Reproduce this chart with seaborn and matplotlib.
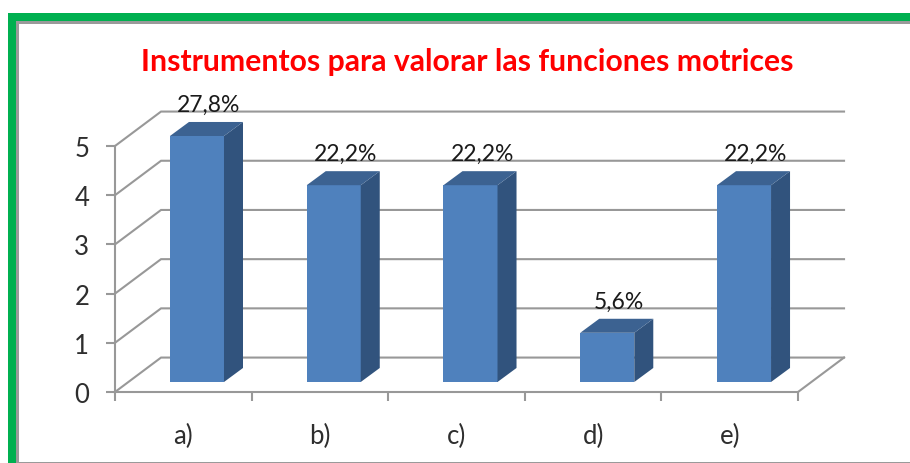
# Instrumentos para valorar las funciones motrices
# 3D looking column chart

# Required Libraries
import pandas as pd
import matplotlib
matplotlib.use('Agg')
import matplotlib.pyplot as plt
from matplotlib.patches import Polygon, Rectangle
import seaborn as sb

# Data
categories = ['a)', 'b)', 'c)', 'd)', 'e)']
values = [5, 4, 4, 1, 4]
percent_labels = ['27,8%', '22,2%', '22,2%', '5,6%', '22,2%']
y_ticks = [0, 1, 2, 3, 4, 5]
title = 'Instrumentos para valorar las funciones motrices'

# Colours
GRID = '#989898'
FRONT = '#4F81BD'
SIDE = '#31537D'
TOP = '#3C6291'
GREEN = '#00B050'

W, H = 910, 464
plt.rcParams['font.family'] = ['Lato', 'DejaVu Sans']
fig = plt.figure(figsize=(W / 100, H / 100), dpi=100, facecolor='white')


# Axes box given in picture pixels
def box(left, right, top, bottom):
    return [left / W, 1 - bottom / H, (right - left) / W, (bottom - top) / H]


# Frame around the picture
def frame(left, right, top, bottom, color):
    fig.add_artist(Rectangle((left / W, 1 - bottom / H), (right - left) / W, (bottom - top) / H,
                             transform=fig.transFigure, facecolor=color, edgecolor='none'))


frame(8, W, 14, H, GREEN)
frame(16, W, 22, H, '#9A9A9A')
frame(19, W, 25, 463, 'white')

# Front plane with the axes, walls and gridlines
ax = fig.add_axes(box(115, 798, 147, 393), zorder=1)
ax.patch.set_alpha(0)
ax.set_xlim(-0.5, 4.5)
ax.set_ylim(0, 5)
wall_x, wall_y = 0.337, 0.70
for v in y_ticks:
    ax.plot([-0.5, -0.5 + wall_x, 4.5 + wall_x], [v, v + wall_y, v + wall_y],
            color=GRID, lw=1.5, clip_on=False, solid_joinstyle='miter')
ax.plot([4.5, 4.5 + wall_x], [0, wall_y], color=GRID, lw=1.5, clip_on=False)

sb.despine(ax=ax)
for side in ['left', 'bottom']:
    ax.spines[side].set_color(GRID)
    ax.spines[side].set_linewidth(1.5)
ax.set_yticks(y_ticks)
ax.tick_params(axis='y', length=6.5, width=1.5, color=GRID, labelsize=18.5, labelcolor='#2E2E2E', pad=12)
ax.set_xticks([i - 0.5 for i in range(len(categories) + 1)])
ax.set_xticklabels([])
ax.set_xticks(range(len(categories)), labels=categories, minor=True)
ax.tick_params(axis='x', which='major', length=6.5, width=1.5, color=GRID)
ax.tick_params(axis='x', which='minor', length=0, labelsize=18.5, labelcolor='#2E2E2E', pad=22)

# Bars on their own plane, a little behind the axes
df = pd.DataFrame({'category': categories, 'value': values})
bx = fig.add_axes(box(128.6, 812.4, 137, 383), zorder=2)
bx.patch.set_alpha(0)
sb.barplot(data=df, x='category', y='value', color=FRONT, saturation=1, width=0.395, ax=bx)
bx.set_xlim(-0.5, 4.5)
bx.set_ylim(0, 5)
bx.axis('off')

depth_x, depth_y = 0.139, 0.285
for bar, label in zip(bx.patches, percent_labels):
    x0, x1 = bar.get_x(), bar.get_x() + bar.get_width()
    v = bar.get_height()
    bx.add_patch(Polygon([(x1, 0), (x1 + depth_x, depth_y), (x1 + depth_x, v + depth_y), (x1, v)],
                         facecolor=SIDE, edgecolor='none', clip_on=False))
    bx.add_patch(Polygon([(x0, v), (x0 + depth_x, v + depth_y), (x1 + depth_x, v + depth_y), (x1, v)],
                         facecolor=TOP, edgecolor='none', clip_on=False))
    bx.annotate(label, ((x0 + x1) / 2, v), xytext=(8.5, 18), textcoords='offset points',
                ha='center', va='baseline', fontsize=16.5, color='#1A1A1A', annotation_clip=False)

fig.text(467 / W, 1 - 71 / H, title, color='#FF0000', fontsize=21.7, fontweight='bold',
         ha='center', va='baseline')

plt.savefig('out.png', dpi=100)
